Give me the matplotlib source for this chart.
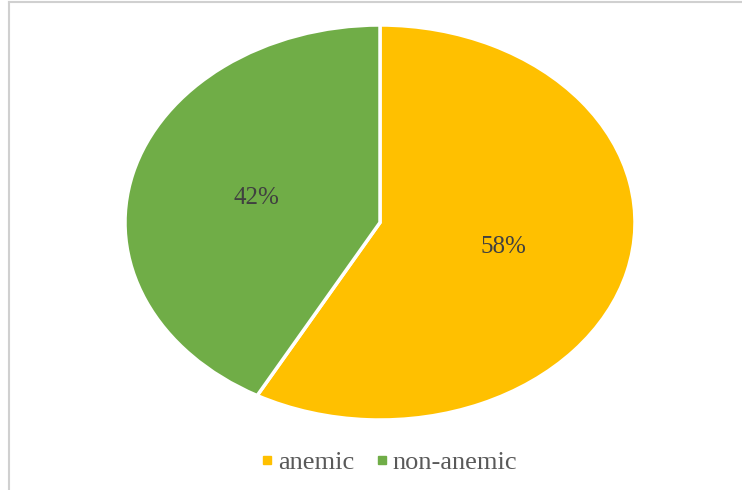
import matplotlib.pyplot as plt
from matplotlib.lines import Line2D

labels = ["anemic", "non-anemic"]
shares = [58, 42]
colors = ["#FFC000", "#70AD47"]

plt.rcParams["font.family"] = ["Liberation Serif", "DejaVu Serif"]

fig = plt.figure(figsize=(7.42, 4.9), dpi=100)

# only the left and top edges of the chart frame are visible in the original
frame_x = 8.5 / 742
frame_y = 1 - 2.5 / 490
fig.lines.append(Line2D([frame_x, frame_x], [0, frame_y], transform=fig.transFigure,
                        color="#d0d0d0", linewidth=1.5))
fig.lines.append(Line2D([frame_x, 1], [frame_y, frame_y], transform=fig.transFigure,
                        color="#d0d0d0", linewidth=1.5))

# pie is an ellipse in the original, so use a non-square axes with auto aspect
ax = fig.add_axes([125 / 742, 1 - 420 / 490, 510 / 742, 395 / 490])
wedges, texts, autotexts = ax.pie(
    shares, colors=colors, startangle=90, counterclock=False,
    autopct="%d%%", pctdistance=0.5,
    wedgeprops=dict(edgecolor="white", linewidth=2.5),
    textprops=dict(fontsize=18, color="#404040"))
ax.set_aspect("auto")
ax.set_xlim(-1.0, 1.0)
ax.set_ylim(-1.0, 1.0)

handles = [Line2D([], [], marker="s", linestyle="none", markersize=6,
                  markerfacecolor=c, markeredgecolor=c) for c in colors]
fig.legend(handles, labels, loc="center", bbox_to_anchor=(389 / 742, 1 - 462 / 490),
           ncol=2, frameon=False, fontsize=19, labelcolor="#595959",
           handlelength=0.5, handletextpad=0.15, columnspacing=0.8)

fig.savefig("out.png", dpi=100)
